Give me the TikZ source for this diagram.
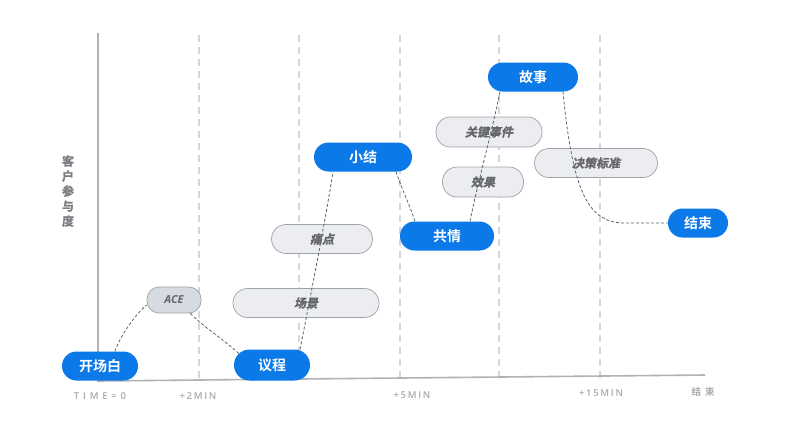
\documentclass[tikz,border=0pt]{standalone}
\usepackage{fontspec}
\usetikzlibrary{calc}
\newfontfamily\cjkb{Noto Sans CJK SC Bold}
\newfontfamily\cjkbb{Noto Sans CJK SC Bold}[FakeBold=1.2]
\newfontfamily\cjkit{Noto Sans CJK SC Bold}[FakeSlant=0.22,FakeBold=1.2]
\newfontfamily\axfont{Open Sans Semibold}[LetterSpace=18]
\newfontfamily\axwide{Open Sans Semibold}[LetterSpace=40]
\newfontfamily\aceit{Open Sans Bold Italic}
\definecolor{kblue}{RGB}{11,121,231}
\definecolor{kfill}{RGB}{236,237,241}
\definecolor{kline}{RGB}{158,162,168}
\definecolor{kacefill}{RGB}{214,218,225}
\definecolor{ktext}{RGB}{100,102,108}
\definecolor{kconn}{RGB}{90,100,112}
\definecolor{kgrid}{RGB}{214,214,214}
\definecolor{kaxis}{RGB}{178,178,178}
\definecolor{klabel}{RGB}{170,170,170}
\tikzset{
  bluebox/.style={fill=kblue, text=white, rounded corners=14.5pt, minimum height=29pt, inner sep=0pt, font=\cjkb\fontsize{14}{14}\selectfont},
  graybox/.style={fill=kfill, draw=kline, line width=0.7pt, rounded corners=14.5pt, minimum height=29pt, inner sep=0pt, text=ktext, font=\cjkit\fontsize{12}{12}\selectfont},
  conn/.style={draw=kconn, line width=0.8pt, dash pattern=on 3pt off 2pt},
  gridline/.style={draw=kgrid, line width=1.2pt, dash pattern=on 7pt off 5pt},
  axlabel/.style={text=klabel, font=\axfont\fontsize{9.5}{10}\selectfont, inner sep=0pt},
}
\begin{document}
\begin{tikzpicture}[x=1pt,y=-1pt]
\useasboundingbox[fill=white] (0,0) rectangle (806,421);
% grid
\foreach \gx/\gn in {199/ga,299/gb,400/gc,499/gd,600/ge}{
  \coordinate (\gn t) at (\gx,35);
  \coordinate (\gn b) at (\gx,378);
  \draw[gridline] (\gn t) -- (\gn b);
}
% axes
\coordinate (yt) at (98,33);
\coordinate (org) at (98,381);
\coordinate (xe) at (705,375);
\draw[kaxis, line width=1.6pt] (yt) -- (org) -- (xe);
% axis labels
\node[axlabel, font=\axwide\fontsize{9.5}{10}\selectfont] (l0) at (100,396) {TIME=0};
\node[axlabel] (l1) at (198,396) {+2MIN};
\node[axlabel] (l2) at (412,395) {+5MIN};
\node[axlabel] (l3) at (601,393) {+15MIN};
\node[text=klabel, inner sep=0pt, font=\cjkb\fontsize{9.5}{10}\selectfont] (l4) at (703,392) {结\hspace{4pt}束};
\node[text=ktext!85, inner sep=0pt, align=center, font=\cjkbb\fontsize{12}{15}\selectfont] (ylab) at (68,191) {客\\户\\参\\与\\度};
% gray nodes
\node[graybox, fill=kacefill, minimum width=54pt, minimum height=26pt, rounded corners=12pt, font=\aceit\fontsize{11}{11}\selectfont] (ace) at (174,300) {ACE};
\node[graybox, minimum width=146pt] (cj) at (306,303) {场景};
\node[graybox, minimum width=101pt] (td) at (322,239) {痛点};
\node[graybox, minimum width=106pt, minimum height=30pt] (gj) at (489,132) {关键事件};
\node[graybox, minimum width=81pt, minimum height=30pt] (xg) at (483,182) {效果};
\node[graybox, minimum width=123pt] (jc) at (596,163) {决策标准};
% blue nodes
\node[bluebox, minimum width=76pt] (kc) at (100,366) {开场白};
\node[bluebox, minimum width=76pt, minimum height=31pt, rounded corners=15.5pt] (yc) at (272,365) {议程};
\node[bluebox, minimum width=98pt] (xj) at (363,157) {小结};
\node[bluebox, minimum width=94pt] (gq) at (447,236) {共情};
\node[bluebox, minimum width=90pt] (gs) at (533,77) {故事};
\node[bluebox, minimum width=60pt] (js) at (698,223) {结束};
% connectors
\draw[conn] ($(kc.north)+(15,0)$) .. controls +(6,-18) and +(-8,6) .. ($(ace.west)+(0,5)$);
\draw[conn] ($(ace.south east)+(-11,0)$) .. controls +(16,16) and +(-20,-18) .. ($(yc.north west)+(6,5)$);
\draw[conn] ($(yc.north)+(28,0)$) .. controls +(8,-40) and +(-6,40) .. ($(xj.south)+(-30,0)$);
\draw[conn] ($(xj.south)+(33,0)$) .. controls +(6,18) and +(-6,-18) .. ($(gq.north)+(-32,0)$);
\draw[conn] ($(gq.north)+(23,0)$) .. controls +(8,-40) and +(-8,40) .. ($(gs.south)+(-33,0)$);
\coordinate (bend) at (625,223);
\draw[conn] ($(gs.south)+(30,0)$) .. controls +(10,105) and +(-35,0) .. (bend) -- (js.west);
\end{tikzpicture}
\end{document}
